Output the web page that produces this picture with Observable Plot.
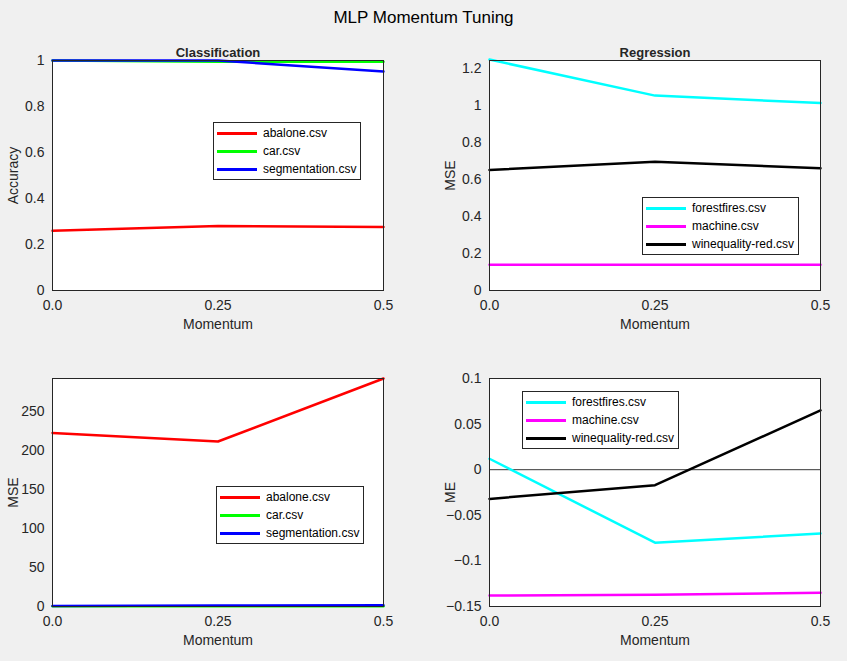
<!DOCTYPE html>
<html><head><meta charset="utf-8">
<script src="https://cdn.jsdelivr.net/npm/d3@7"></script>
<script src="https://cdn.jsdelivr.net/npm/@observablehq/plot@0.6"></script>
<style>
body{margin:0;background:#f0f0f0;font-family:"Liberation Sans",Arial,sans-serif;}
#fig{position:relative;width:847px;height:661px;background:#f0f0f0;overflow:hidden}
#fig svg{position:absolute;background:transparent}
#fig svg [aria-label$="label"] text{font-size:14px}
.ttl{position:absolute;left:0;width:847px;top:8px;text-align:center;font-size:17px;color:#000}
.leg{position:absolute;background:#fff;border:1px solid #262626;font-size:12px;padding:1px 4px 1px 3px}
.leg div{display:flex;align-items:center;height:18px;white-space:nowrap}
.leg span.sw{display:inline-block;width:40px;height:0;border-top:3px solid;margin-right:6px}
</style></head>
<body><div id="fig"><div class="ttl">MLP Momentum Tuning</div></div>
<script>
const momentum = [0, 0.25, 0.5];
const xTicks = ["0.0", "0.25", "0.5"];

const clsNames = ["abalone.csv", "car.csv", "segmentation.csv"];
const clsColors = ["#ff0000", "#00ff00", "#0000ff"];
const clsAccuracy = [[0.26, 0.28, 0.276], [1.0, 0.995, 0.995], [1.0, 1.0, 0.952]];
const clsMSE = [[223, 212, 293], [0.3, 0.3, 0.3], [0.8, 1.4, 1.5]];

const regNames = ["forestfires.csv", "machine.csv", "winequality-red.csv"];
const regColors = ["#00ffff", "#ff00ff", "#000000"];
const regMSE = [[1.25, 1.055, 1.015], [0.14, 0.14, 0.14], [0.652, 0.697, 0.662]];
const regME = [[0.012, -0.08, -0.07], [-0.138, -0.137, -0.135], [-0.032, -0.017, 0.065]];

const fig = document.getElementById("fig");

function rows(names, series) {
  const out = [];
  names.forEach((n, i) => momentum.forEach((m, j) => out.push({name: n, m, v: series[i][j]})));
  return out;
}

function panel({left, top, mt, h, names, colors, series, yDomain, yTicks, yFmt, yLabel, title, zero, leg}) {
  const marks = [
    Plot.frame({fill: "white", stroke: "none"}),
    zero ? Plot.ruleY([0], {stroke: "black", strokeWidth: 0.8}) : null,
    Plot.line(rows(names, series), {x: "m", y: "v", z: "name",
      stroke: "name", strokeWidth: 2.5}),
    Plot.frame({stroke: "#262626"}),
    title ? Plot.text([title], {frameAnchor: "top", dy: -13, fontWeight: "bold", fontSize: 13}) : null
  ];
  const chart = Plot.plot({
    width: 423, height: mt + h + 50,
    marginLeft: 52, marginRight: 40, marginTop: mt, marginBottom: 50,
    style: {fontFamily: "Liberation Sans, Arial, sans-serif", fontSize: "12px", color: "#262626"},
    x: {domain: [0, 0.5], ticks: momentum, tickFormat: (d, i) => xTicks[i],
        label: "Momentum", labelArrow: "none", labelAnchor: "center", labelOffset: 38,
        tickSize: -4, tickPadding: 14},
    y: {domain: yDomain, ticks: yTicks, tickFormat: yFmt, label: yLabel, labelArrow: "none",
        labelAnchor: "center", labelOffset: 44, tickSize: -4, tickPadding: 12},
    color: {domain: names, range: colors},
    marks
  });
  chart.style.left = left + "px";
  chart.style.top = top + "px";
  fig.append(chart);
  const lg = document.createElement("div");
  lg.className = "leg";
  lg.style.left = leg[0] + "px";
  lg.style.top = leg[1] + "px";
  names.forEach((n, i) => {
    const r = document.createElement("div");
    r.innerHTML = `<span class="sw" style="border-color:${colors[i]}"></span>${n}`;
    lg.append(r);
  });
  fig.append(lg);
}

const f = d3.format("~g");
panel({left: 0, top: 0, mt: 60, h: 230, names: clsNames, colors: clsColors, series: clsAccuracy,
  yDomain: [0, 1], yTicks: d3.range(0, 1.01, 0.2), yFmt: f, yLabel: "Accuracy",
  title: "Classification", leg: [213, 122]});
panel({left: 437, top: 0, mt: 60, h: 230, names: regNames, colors: regColors, series: regMSE,
  yDomain: [0, 1.245], yTicks: d3.range(0, 1.21, 0.2), yFmt: f, yLabel: "MSE",
  title: "Regression", leg: [642, 197]});
panel({left: 0, top: 330, mt: 48, h: 228, names: clsNames, colors: clsColors, series: clsMSE,
  yDomain: [0, 293], yTicks: d3.range(0, 251, 50), yFmt: f, yLabel: "MSE",
  leg: [216, 486]});
panel({left: 437, top: 330, mt: 48, h: 228, names: regNames, colors: regColors, series: regME,
  yDomain: [-0.15, 0.1], yTicks: [-0.15, -0.1, -0.05, 0, 0.05, 0.1], yFmt: f, yLabel: "ME",
  zero: true, leg: [522, 391]});
</script></body></html>
